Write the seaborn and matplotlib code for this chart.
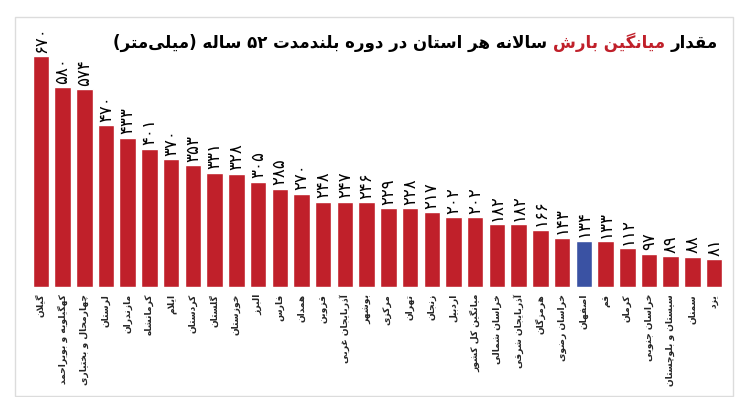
import re
import numpy as np
import pandas as pd
import matplotlib
matplotlib.use('Agg')
import matplotlib.pyplot as plt
import seaborn as sns
from matplotlib.offsetbox import TextArea, HPacker, AnchoredOffsetbox
from matplotlib.patches import Rectangle

# --- data ---
provinces = [
    'گیلان', 'کهگیلویه و بویراحمد', 'چهارمحال و بختیاری', 'لرستان', 'مازندران',
    'کرمانشاه', 'ایلام', 'کردستان', 'گلستان', 'خوزستان', 'البرز', 'فارس', 'همدان',
    'قزوین', 'آذربایجان غربی', 'بوشهر', 'مرکزی', 'تهران', 'زنجان', 'اردبیل',
    'میانگین کل کشور', 'خراسان شمالی', 'آذربایجان شرقی', 'هرمزگان', 'خراسان رضوی',
    'اصفهان', 'قم', 'کرمان', 'خراسان جنوبی', 'سیستان و بلوچستان', 'سمنان', 'یزد',
]
rainfall = [670, 580, 574, 470, 433, 401, 370, 353, 331, 328, 305, 285, 270,
            248, 247, 246, 229, 228, 217, 202, 202, 182, 182, 166, 143,
            134, 133, 112, 97, 89, 88, 81]
highlight = 'اصفهان'

title_parts = ['مقدار', 'میانگین بارش', 'سالانه هر استان در دوره بلندمدت ۵۲ ساله (میلی‌متر)']

RED = '#c0202a'
BLUE = '#3a52a3'

# --- minimal persian shaping (matplotlib has no bidi / joining) ---
# (isolated, final, initial, medial); initial None -> joins only to the previous letter
FORMS = {
    'ا': ('\uFE8D', '\uFE8E', None, None),
    'آ': ('\uFE81', '\uFE82', None, None),
    'ب': ('\uFE8F', '\uFE90', '\uFE91', '\uFE92'),
    'پ': ('\uFB56', '\uFB57', '\uFB58', '\uFB59'),
    'ت': ('\uFE95', '\uFE96', '\uFE97', '\uFE98'),
    'ث': ('\uFE99', '\uFE9A', '\uFE9B', '\uFE9C'),
    'ج': ('\uFE9D', '\uFE9E', '\uFE9F', '\uFEA0'),
    'چ': ('\uFB7A', '\uFB7B', '\uFB7C', '\uFB7D'),
    'ح': ('\uFEA1', '\uFEA2', '\uFEA3', '\uFEA4'),
    'خ': ('\uFEA5', '\uFEA6', '\uFEA7', '\uFEA8'),
    'د': ('\uFEA9', '\uFEAA', None, None),
    'ذ': ('\uFEAB', '\uFEAC', None, None),
    'ر': ('\uFEAD', '\uFEAE', None, None),
    'ز': ('\uFEAF', '\uFEB0', None, None),
    'ژ': ('\uFB8A', '\uFB8B', None, None),
    'س': ('\uFEB1', '\uFEB2', '\uFEB3', '\uFEB4'),
    'ش': ('\uFEB5', '\uFEB6', '\uFEB7', '\uFEB8'),
    'ص': ('\uFEB9', '\uFEBA', '\uFEBB', '\uFEBC'),
    'ض': ('\uFEBD', '\uFEBE', '\uFEBF', '\uFEC0'),
    'ط': ('\uFEC1', '\uFEC2', '\uFEC3', '\uFEC4'),
    'ظ': ('\uFEC5', '\uFEC6', '\uFEC7', '\uFEC8'),
    'ع': ('\uFEC9', '\uFECA', '\uFECB', '\uFECC'),
    'غ': ('\uFECD', '\uFECE', '\uFECF', '\uFED0'),
    'ف': ('\uFED1', '\uFED2', '\uFED3', '\uFED4'),
    'ق': ('\uFED5', '\uFED6', '\uFED7', '\uFED8'),
    'ک': ('\uFB8E', '\uFB8F', '\uFB90', '\uFB91'),
    'گ': ('\uFB92', '\uFB93', '\uFB94', '\uFB95'),
    'ل': ('\uFEDD', '\uFEDE', '\uFEDF', '\uFEE0'),
    'م': ('\uFEE1', '\uFEE2', '\uFEE3', '\uFEE4'),
    'ن': ('\uFEE5', '\uFEE6', '\uFEE7', '\uFEE8'),
    'ه': ('\uFEE9', '\uFEEA', '\uFEEB', '\uFEEC'),
    'و': ('\uFEED', '\uFEEE', None, None),
    'ی': ('\uFEEF', '\uFEF0', '\uFEF3', '\uFEF4'),
}
LAM_ALEF = {'ا': ('\uFEFB', '\uFEFC'), 'آ': ('\uFEF5', '\uFEF6')}


def dual(c):
    return c in FORMS and FORMS[c][2] is not None


def shape(text):
    out = []
    i, n = 0, len(text)
    while i < n:
        c = text[i]
        if c not in FORMS:
            out.append(c)
            i += 1
            continue
        jp = i > 0 and dual(text[i - 1])
        if c == 'ل' and i + 1 < n and text[i + 1] in LAM_ALEF:
            iso, fin = LAM_ALEF[text[i + 1]]
            out.append(fin if jp else iso)
            i += 2
            continue
        jn = dual(c) and i + 1 < n and text[i + 1] in FORMS
        iso, fin, ini, med = FORMS[c]
        if jp and jn:
            out.append(med)
        elif jp:
            out.append(fin)
        elif jn:
            out.append(ini)
        else:
            out.append(iso)
        i += 1
    return ''.join(out).replace('\u200c', '')


def fa(text):
    s = shape(text)[::-1]
    s = re.sub(r'[0-9\u06F0-\u06F9]+', lambda m: m.group(0)[::-1], s)
    return s.translate(str.maketrans('()', ')('))


def fa_num(v):
    return str(v).translate(str.maketrans('0123456789', '۰۱۲۳۴۵۶۷۸۹'))


df = pd.DataFrame({'province': provinces, 'rainfall': rainfall})
df['label'] = [fa(p) for p in provinces]
df['group'] = np.where(df['province'] == highlight, 'hl', 'base')

sns.set_style('white')
plt.rcParams['font.family'] = ['DejaVu Sans']

fig = plt.figure(figsize=(7.51, 3.97), dpi=100)
fig.patches.append(Rectangle((15 / 751, 0.002), 718 / 751, 1 - 18 / 397,
                             transform=fig.transFigure, fill=False,
                             edgecolor='#dcdcdc', linewidth=1.0))
ax = fig.add_axes([30 / 751, 1 - 287 / 397, 695 / 751, 262 / 397])

sns.barplot(data=df, x='label', y='rainfall', hue='group',
            palette={'base': RED, 'hl': BLUE}, order=df['label'],
            dodge=False, legend=False, width=0.76, saturation=1, ax=ax)

ax.set_xlim(-0.5, len(df) - 0.5)
ax.set_ylim(0, 760)
for i, v in enumerate(df['rainfall']):
    ax.text(i, v + 10, fa_num(v), rotation=90, ha='center', va='bottom',
            fontsize=12, color='black')

ax.set_xticks(range(len(df)))
ax.set_xticklabels(df['label'], rotation=90, fontsize=6.6, fontweight='bold')
ax.tick_params(axis='x', length=0, pad=5)
ax.set_yticks([])
ax.set_xlabel('')
ax.set_ylabel('')
sns.despine(ax=ax, left=True, bottom=True)

# title: right-to-left, middle part in red
tprops = dict(fontsize=12, fontweight='bold')
pieces = [TextArea(fa(title_parts[2]), textprops=dict(color='black', **tprops)),
          TextArea(fa(title_parts[1]), textprops=dict(color=RED, **tprops)),
          TextArea(fa(title_parts[0]), textprops=dict(color='black', **tprops))]
title_box = HPacker(children=pieces, align='baseline', pad=0, sep=4)
anchored = AnchoredOffsetbox(loc='center right', child=title_box, pad=0, borderpad=0,
                             frameon=False, bbox_to_anchor=(718 / 751, 1 - 42 / 397),
                             bbox_transform=fig.transFigure)
fig.add_artist(anchored)

fig.savefig('out.png', dpi=100)
